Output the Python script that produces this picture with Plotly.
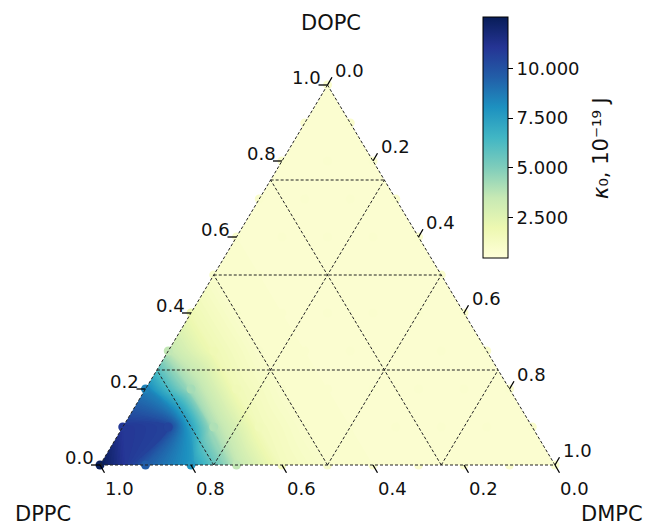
import numpy as np
import plotly.graph_objects as go

# Bending rigidity kappa_0 (10^-19 J) on a composition lattice.
# One list per DOPC fraction; entries run over DMPC = 0.0, 0.1, ... (DPPC = remainder).
kappa_dopc_00 = [12.5, 9.6, 7.8, 3.6, 1.5, 1.0, 0.9, 0.85, 0.85, 0.85, 0.85]
kappa_dopc_01 = [10.9, 10.5, 4.0, 1.6, 1.0, 0.9, 0.85, 0.85, 0.85, 0.85]
kappa_dopc_02 = [8.5, 4.2, 1.7, 1.0, 0.9, 0.85, 0.85, 0.85, 0.85]
kappa_dopc_03 = [3.6, 1.8, 1.0, 0.9, 0.85, 0.85, 0.85, 0.85]
kappa_dopc_04 = [1.8, 1.0, 0.9, 0.85, 0.85, 0.85, 0.85]
kappa_dopc_05 = [1.0, 0.9, 0.85, 0.85, 0.85, 0.85]
kappa_dopc_06 = [0.9, 0.85, 0.85, 0.85, 0.85]
kappa_dopc_07 = [0.85, 0.85, 0.85, 0.85]
kappa_dopc_08 = [0.85, 0.85, 0.85]
kappa_dopc_09 = [0.85, 0.85]
kappa_dopc_10 = [0.85]

dopc_levels = [0.0, 0.1, 0.2, 0.3, 0.4, 0.5, 0.6, 0.7, 0.8, 0.9, 1.0]
dmpc_levels = [0.0, 0.1, 0.2, 0.3, 0.4, 0.5, 0.6, 0.7, 0.8, 0.9, 1.0]

tick_values = [0.0, 0.2, 0.4, 0.6, 0.8, 1.0]
grid_values = [0.0, 0.25, 0.5, 0.75]
cbar_ticks = [2.5, 5.0, 7.5, 10.0]
kappa_min, kappa_max = 0.45, 12.6

kappa_rows = [kappa_dopc_00, kappa_dopc_01, kappa_dopc_02, kappa_dopc_03,
              kappa_dopc_04, kappa_dopc_05, kappa_dopc_06, kappa_dopc_07,
              kappa_dopc_08, kappa_dopc_09, kappa_dopc_10]

H = np.sqrt(3) / 2


def to_xy(dopc, dmpc):
    """Ternary (DOPC top, DMPC right, DPPC left) -> cartesian."""
    return dmpc + dopc / 2, dopc * H


# lattice points
px, py, pk = [], [], []
for a, row in zip(dopc_levels, kappa_rows):
    for j, val in enumerate(row):
        x, y = to_xy(a, dmpc_levels[j])
        px.append(x)
        py.append(y)
        pk.append(val)

# sheared (DMPC, DOPC) carpet; nodes past the DMPC edge repeat the edge value
# and lie under the white cover
n = len(dmpc_levels)
car_x = [[to_xy(a, b)[0] for b in dmpc_levels] for a in dopc_levels]
car_y = [[to_xy(a, b)[1] for b in dmpc_levels] for a in dopc_levels]
car_z = [[row[j] if j < len(row) else row[-1] for j in range(n)] for row in kappa_rows]

ylgnbu = [
    [0.000, "#ffffd9"], [0.125, "#edf8b1"], [0.250, "#c7e9b4"],
    [0.375, "#7fcdbb"], [0.500, "#41b6c4"], [0.625, "#1d91c0"],
    [0.750, "#225ea8"], [0.875, "#253494"], [1.000, "#081d58"],
]

FONT = "DejaVu Sans"
fig = go.Figure()

hidden_axis = dict(showgrid=False, showline=False, startline=False, endline=False,
                   showticklabels="none", minorgridcount=0,
                   gridcolor="rgba(0,0,0,0)", linecolor="rgba(0,0,0,0)")
fig.add_trace(go.Carpet(
    carpet="comp", a=dmpc_levels, b=dopc_levels, x=car_x, y=car_y,
    aaxis=hidden_axis, baxis=hidden_axis,
))
fig.add_trace(go.Contourcarpet(
    carpet="comp", a=dmpc_levels, b=dopc_levels, z=car_z,
    colorscale=ylgnbu, zmin=kappa_min, zmax=kappa_max, showscale=False,
    autocontour=False,
    contours=dict(start=0.5, end=12.6, size=0.1, coloring="fill", showlines=False),
    line=dict(width=0),
))

# white cover outside the triangle
X0, X1, Y0, Y1 = -0.4, 1.6, -0.3, 1.2
mask_x = [X0, X1, X1, X0, X0, 0, 0.5, 1, 0, X0]
mask_y = [Y0, Y0, Y1, Y1, Y0, 0, H, 0, 0, Y0]
fig.add_trace(go.Scatter(
    x=mask_x, y=mask_y, mode="lines", fill="toself", fillcolor="white",
    line=dict(width=0, color="white"), hoverinfo="skip", showlegend=False,
))

# sampled compositions
fig.add_trace(go.Scatter(
    x=px, y=py, mode="markers", hoverinfo="skip", showlegend=False,
    marker=dict(size=9, color=pk, coloraxis="coloraxis", line=dict(width=0)),
))

# dashed grid and triangle border
gx, gy = [], []
for g in grid_values:
    for (a0, b0), (a1, b1) in [
        ((g, 0.0), (g, 1 - g)),          # constant DOPC
        ((0.0, g), (1 - g, g)),          # constant DMPC
        ((0.0, 1 - g), (1 - g, 0.0)),    # constant DPPC
    ]:
        x0, y0 = to_xy(a0, b0)
        x1, y1 = to_xy(a1, b1)
        gx += [x0, x1, None]
        gy += [y0, y1, None]
fig.add_trace(go.Scatter(
    x=gx, y=gy, mode="lines", hoverinfo="skip", showlegend=False,
    line=dict(color="#222222", width=1, dash="3px,2px"),
))

# ticks and tick labels on the three edges
TL = 9
TICK_FONT = dict(family=FONT, size=18, color="#111")
for t in tick_values:
    lab = f"{t:.1f}"
    # DPPC along the bottom edge
    bx, by = to_xy(0.0, 1 - t)
    fig.add_shape(type="line", xref="x", yref="y", xsizemode="pixel", ysizemode="pixel",
                  xanchor=bx, yanchor=by, x0=0, y0=0, x1=TL * 0.5, y1=-TL * 0.866,
                  line=dict(color="black", width=1.3))
    fig.add_annotation(x=bx, y=by, text=lab, showarrow=False, xshift=19, yshift=-23,
                       font=TICK_FONT)
    # DOPC along the left edge
    lx, ly = to_xy(t, 0.0)
    fig.add_shape(type="line", xref="x", yref="y", xsizemode="pixel", ysizemode="pixel",
                  xanchor=lx, yanchor=ly, x0=0, y0=0, x1=-TL, y1=0,
                  line=dict(color="black", width=1.3))
    fig.add_annotation(x=lx, y=ly, text=lab, showarrow=False, xshift=-21, yshift=8,
                       font=TICK_FONT)
    # DMPC along the right edge
    rx, ry = to_xy(1 - t, t)
    fig.add_shape(type="line", xref="x", yref="y", xsizemode="pixel", ysizemode="pixel",
                  xanchor=rx, yanchor=ry, x0=0, y0=0, x1=TL * 0.5, y1=TL * 0.866,
                  line=dict(color="black", width=1.3))
    fig.add_annotation(x=rx, y=ry, text=lab, showarrow=False, xshift=22, yshift=15,
                       font=TICK_FONT)

# component names
for name, xp, yp in [("DOPC", 331 / 646, 1 - 23 / 525),
                     ("DPPC", 42.5 / 646, 1 - 514 / 525),
                     ("DMPC", 611.5 / 646, 1 - 514 / 525)]:
    fig.add_annotation(x=xp, y=yp, xref="paper", yref="paper", text=name,
                       showarrow=False, xanchor="center", yanchor="middle",
                       font=dict(family=FONT, size=21, color="#111"))

# colour bar label
fig.add_annotation(x=601 / 646, y=1 - 148 / 525, xref="paper", yref="paper",
                   text="<i>κ</i>₀, 10⁻¹⁹ J", textangle=-90, showarrow=False,
                   xanchor="center", yanchor="middle",
                   font=dict(family=FONT, size=21, color="#111"))

px_per_x = 455.0
px_per_y = 380.0 / H
fig.update_layout(
    width=646, height=525,
    margin=dict(l=0, r=0, t=0, b=0),
    paper_bgcolor="white", plot_bgcolor="white",
    font=dict(family=FONT, color="#111"),
    showlegend=False,
    xaxis=dict(range=[-100 / px_per_x, 546 / px_per_x], visible=False, fixedrange=True),
    yaxis=dict(range=[-60 / px_per_y, 465 / px_per_y], visible=False, fixedrange=True),
    coloraxis=dict(
        colorscale=ylgnbu, cmin=kappa_min, cmax=kappa_max,
        colorbar=dict(
            x=483 / 646, xanchor="left", xpad=0,
            y=1 - 137.5 / 525, yanchor="middle", ypad=0,
            lenmode="pixels", len=241, thicknessmode="pixels", thickness=25,
            outlinewidth=1, outlinecolor="black",
            ticks="outside", ticklen=5, tickwidth=1, tickcolor="black",
            tickvals=cbar_ticks, tickformat=".3f",
            tickfont=dict(family=FONT, size=18, color="#111"),
        ),
    ),
)

fig.write_html("out.html")
